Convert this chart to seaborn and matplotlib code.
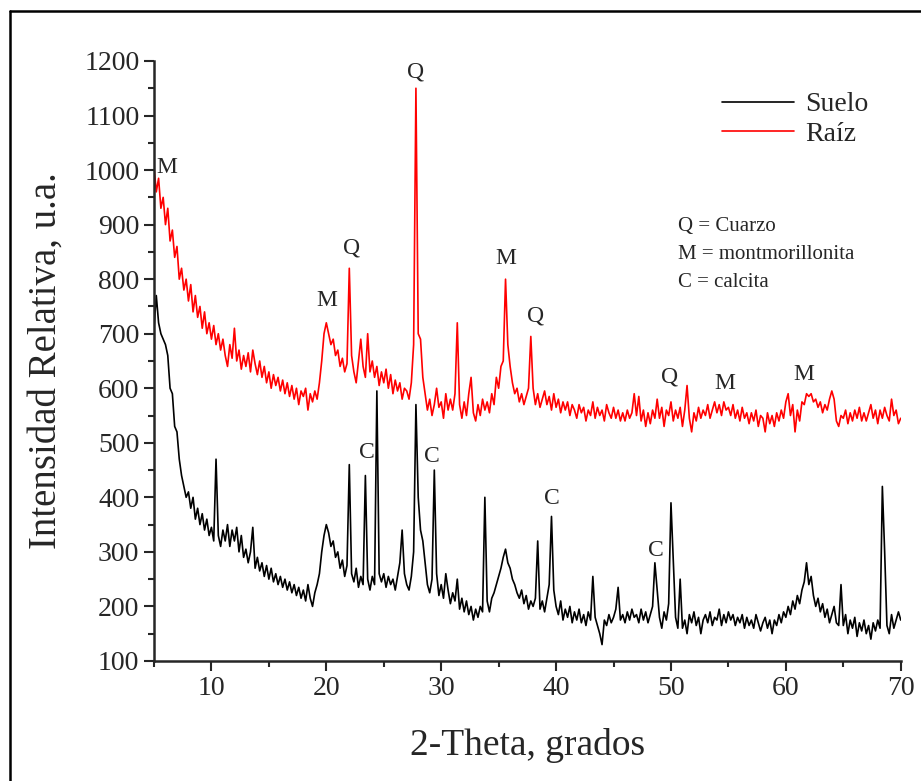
import numpy as np
import pandas as pd
import matplotlib
matplotlib.use("Agg")
import matplotlib.pyplot as plt
from matplotlib.lines import Line2D
from matplotlib.ticker import MultipleLocator
import seaborn as sns

# 2-theta grid (0.2 deg steps, 5 -> 70)
two_theta = np.round(np.arange(5.0, 70.01, 0.2), 1)

# Raiz (red) intensities, 5 values per degree
raiz = [
    1005, 960, 985, 930, 950,  900, 930, 870, 890, 840,    # 5-6
    860, 800, 820, 780, 800,  760, 790, 740, 770, 730,     # 7-8
    750, 710, 740, 700, 720,  690, 715, 680, 700, 670,     # 9-10
    690, 660, 640, 680, 655,  710, 650, 670, 635, 660,     # 11-12
    640, 665, 630, 670, 645,  625, 650, 620, 640, 610,     # 13-14
    630, 600, 625, 605, 620,  595, 615, 590, 610, 585,     # 15-16
    605, 580, 600, 570, 595,  585, 600, 560, 590, 575,     # 17-18
    595, 580, 610, 650, 700,  720, 700, 680, 690, 660,     # 19-20
    670, 640, 655, 630, 645,  820, 660, 630, 610, 650,     # 21-22
    690, 640, 620, 700, 630,  650, 620, 640, 605, 630,     # 23-24
    610, 635, 600, 625, 590,  615, 595, 610, 580, 600,     # 25-26
    595, 580, 610, 680, 1150, 700, 690, 620, 590, 560,     # 27-28
    580, 550, 570, 600, 565,  575, 545, 590, 560, 580,     # 29-30
    560, 590, 720, 570, 545,  575, 550, 590, 620, 555,     # 31-32
    540, 570, 550, 580, 560,  575, 555, 590, 570, 620,     # 33-34
    600, 640, 650, 800, 680,  640, 610, 590, 600, 575,     # 35-36
    590, 570, 585, 600, 695,  600, 570, 590, 565, 580,     # 37-38
    595, 570, 585, 560, 590,  565, 580, 555, 575, 560,     # 39-40
    575, 550, 570, 560, 545,  570, 555, 565, 540, 560,     # 41-42
    550, 575, 545, 565, 550,  560, 540, 570, 555, 545,     # 43-44
    565, 545, 560, 540, 555,  540, 560, 545, 555, 590,     # 45-46
    550, 585, 540, 560, 530,  555, 535, 560, 545, 580,     # 47-48
    545, 565, 530, 560, 550,  575, 540, 560, 545, 565,     # 49-50
    530, 560, 605, 545, 520,  555, 540, 565, 545, 560,     # 51-52
    550, 570, 545, 560, 575,  555, 570, 550, 575, 560,     # 53-54
    565, 550, 570, 545, 560,  540, 565, 545, 555, 535,     # 55-56
    555, 540, 560, 530, 550,  545, 520, 555, 535, 550,     # 57-58
    530, 555, 540, 560, 545,  575, 590, 550, 570, 520,     # 59-60
    560, 540, 575, 570, 590,  585, 590, 575, 580, 565,     # 61-62
    575, 555, 570, 560, 580,  595, 580, 540, 530, 550,     # 63-64
    545, 560, 535, 555, 540,  560, 545, 565, 540, 555,     # 65-66
    540, 555, 570, 545, 560,  535, 560, 545, 565, 550,     # 67-68
    540, 580, 550, 560, 535,  545,                         # 69-70
]

# Suelo (black) intensities
suelo = [
    710, 770, 720, 700, 690,  680, 660, 600, 590, 530,     # 5-6
    520, 470, 440, 420, 400,  410, 380, 400, 360, 380,     # 7-8
    350, 370, 340, 360, 330,  345, 320, 470, 330, 310,     # 9-10
    340, 320, 350, 310, 340,  320, 345, 300, 330, 290,     # 11-12
    305, 280, 300, 345, 270,  290, 265, 280, 255, 275,     # 13-14
    250, 270, 245, 260, 240,  255, 235, 250, 230, 245,     # 15-16
    225, 240, 220, 235, 215,  230, 210, 240, 215, 200,     # 17-18
    225, 240, 260, 300, 330,  350, 335, 310, 320, 290,     # 19-20
    300, 270, 285, 255, 275,  460, 260, 245, 270, 235,     # 21-22
    255, 240, 440, 250, 230,  255, 240, 595, 260, 245,     # 23-24
    260, 235, 255, 240, 250,  230, 255, 280, 340, 260,     # 25-26
    240, 230, 255, 300, 570,  400, 340, 320, 280, 240,     # 27-28
    225, 250, 450, 260, 220,  240, 215, 260, 230, 205,     # 29-30
    225, 210, 250, 195, 215,  190, 210, 185, 200, 175,     # 31-32
    195, 180, 200, 190, 400,  210, 190, 215, 225, 240,     # 33-34
    255, 270, 290, 305, 280,  270, 250, 240, 225, 215,     # 35-36
    230, 205, 220, 195, 210,  200, 215, 320, 195, 210,     # 37-38
    190, 215, 240, 365, 230,  200, 185, 210, 175, 195,     # 39-40
    180, 200, 170, 190, 175,  195, 170, 185, 165, 190,     # 41-42
    175, 255, 180, 165, 150,  130, 175, 165, 185, 170,     # 43-44
    180, 195, 235, 175, 185,  170, 190, 175, 195, 180,     # 45-46
    185, 170, 195, 175, 190,  170, 185, 200, 280, 230,     # 47-48
    180, 160, 190, 175, 205,  390, 285, 180, 160, 250,     # 49-50
    160, 175, 150, 185, 170,  190, 165, 180, 150, 175,     # 51-52
    185, 170, 190, 165, 180,  175, 195, 165, 185, 170,     # 53-54
    190, 175, 185, 165, 180,  170, 185, 160, 180, 165,     # 55-56
    175, 160, 185, 170, 155,  170, 180, 160, 175, 150,     # 57-58
    175, 165, 185, 170, 190,  180, 200, 185, 210, 195,     # 59-60
    220, 205, 230, 245, 280,  240, 255, 220, 200, 215,     # 61-62
    190, 205, 180, 195, 170,  185, 200, 170, 165, 240,     # 63-64
    165, 185, 150, 175, 160,  180, 145, 170, 155, 175,     # 65-66
    150, 165, 140, 170, 155,  175, 160, 420, 300, 165,     # 67-68
    150, 185, 160, 175, 190,  175,                         # 69-70
]

# peak labels (text, 2-theta, intensity)
peak_txt = ["M", "M", "Q", "Q", "M", "Q", "Q", "M", "M", "C", "C", "C", "C"]
peak_x = [6.1, 20.0, 22.2, 27.8, 35.6, 38.2, 49.9, 54.7, 61.6, 23.5, 29.2, 39.6, 48.7]
peak_y = [1005, 760, 858, 1180, 838, 732, 620, 608, 625, 482, 475, 398, 302]

legend_lines = ["Q = Cuarzo", "M = montmorillonita", "C = calcita"]

df = pd.DataFrame({
    "x": np.concatenate([two_theta, two_theta]),
    "y": suelo + raiz,
    "muestra": ["Suelo"] * len(suelo) + ["Raíz"] * len(raiz),
})

sns.set_style("ticks")
plt.rcParams["font.family"] = ["Liberation Serif", "DejaVu Serif"]

fig = plt.figure(figsize=(9.21, 7.81), dpi=100)
ax = fig.add_axes([0.1672, 0.1537, 0.8108, 0.7682])

sns.lineplot(data=df, x="x", y="y", hue="muestra",
             palette={"Suelo": "black", "Raíz": "#ff0000"},
             linewidth=1.2, ax=ax, estimator=None, sort=False)

ax.set_xlim(5, 70)
ax.set_ylim(100, 1200)
ax.xaxis.set_major_locator(MultipleLocator(10))
ax.xaxis.set_minor_locator(MultipleLocator(5))
ax.yaxis.set_major_locator(MultipleLocator(100))
ax.yaxis.set_minor_locator(MultipleLocator(50))
ax.tick_params(which="major", direction="out", length=7, width=1.5, labelsize=20)
ax.tick_params(which="minor", direction="out", length=4, width=1.5)
for s in ["top", "right"]:
    ax.spines[s].set_visible(False)
for s in ["left", "bottom"]:
    ax.spines[s].set_linewidth(1.8)

ax.set_xlabel("2-Theta, grados", fontsize=27, labelpad=20)
ax.set_ylabel("Intensidad Relativa, u.a.", fontsize=28, labelpad=14)

for t, px, py in zip(peak_txt, peak_x, peak_y):
    ax.text(px, py, t, fontsize=17, ha="center", va="center")

for i, line in enumerate(legend_lines):
    ax.text(50.6, 897 - i * 52, line, fontsize=15, ha="left", va="center")

leg = ax.legend(loc="upper right", bbox_to_anchor=(0.99, 0.99), frameon=False,
                fontsize=20, handlelength=2.6, handletextpad=0.4, labelspacing=0.15)
for h in leg.get_lines():
    h.set_linewidth(1.2)

# figure border (top and left)
fig.add_artist(Line2D([0.011, 1.0], [0.986, 0.986], color="black", lw=1.8,
                      transform=fig.transFigure))
fig.add_artist(Line2D([0.011, 0.011], [0.0, 0.986], color="black", lw=1.8,
                      transform=fig.transFigure))

fig.savefig("out.png", dpi=100)
